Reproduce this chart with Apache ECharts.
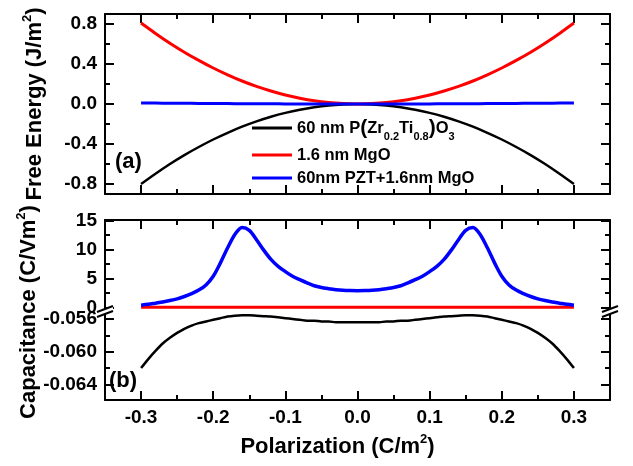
<!DOCTYPE html>
<html><head><meta charset="utf-8">
<script src="https://cdn.jsdelivr.net/npm/echarts@6/dist/echarts.min.js"></script>
<style>html,body{margin:0;padding:0;background:#fff}#c{width:633px;height:466px}</style>
</head><body><div id="c"></div>
<script>
// ---------- data ----------
const polA = [-0.30,-0.28,-0.26,-0.24,-0.22,-0.20,-0.18,-0.16,-0.14,-0.12,-0.10,-0.08,-0.06,-0.04,-0.02,0,0.02,0.04,0.06,0.08,0.10,0.12,0.14,0.16,0.18,0.20,0.22,0.24,0.26,0.28,0.30];
const energyPZT = [-0.800,-0.697,-0.600,-0.511,-0.430,-0.355,-0.288,-0.227,-0.174,-0.128,-0.089,-0.057,-0.032,-0.014,-0.004,0,-0.004,-0.014,-0.032,-0.057,-0.089,-0.128,-0.174,-0.227,-0.288,-0.355,-0.430,-0.511,-0.600,-0.697,-0.800];
const energyMgO = [0.810,0.706,0.608,0.518,0.436,0.360,0.292,0.230,0.176,0.130,0.090,0.058,0.032,0.014,0.004,0,0.004,0.014,0.032,0.058,0.090,0.130,0.176,0.230,0.292,0.360,0.436,0.518,0.608,0.706,0.810];
const energyStack = [0.010,0.009,0.008,0.007,0.006,0.005,0.004,0.003,0.002,0.002,0.001,0.001,0,0,0,0,0,0,0,0.001,0.001,0.002,0.002,0.003,0.004,0.005,0.006,0.007,0.008,0.009,0.010];

const polB = [-0.30,-0.29,-0.28,-0.27,-0.26,-0.25,-0.24,-0.23,-0.22,-0.21,-0.20,-0.19,-0.18,-0.17,-0.16,-0.15,-0.14,-0.13,-0.12,-0.11,-0.10,-0.09,-0.08,-0.07,-0.06,-0.05,-0.04,-0.03,-0.02,-0.01,0,0.01,0.02,0.03,0.04,0.05,0.06,0.07,0.08,0.09,0.10,0.11,0.12,0.13,0.14,0.15,0.16,0.17,0.18,0.19,0.20,0.21,0.22,0.23,0.24,0.25,0.26,0.27,0.28,0.29,0.30];
const capStack = [0.40,0.55,0.75,0.95,1.20,1.50,1.90,2.40,3.00,3.90,5.40,7.70,10.30,12.60,13.80,13.30,11.70,9.90,8.30,7.10,6.20,5.40,4.80,4.25,3.75,3.45,3.25,3.08,2.97,2.92,2.90,2.92,2.97,3.08,3.25,3.45,3.75,4.25,4.80,5.40,6.20,7.10,8.30,9.90,11.70,13.30,13.80,12.60,10.30,7.70,5.40,3.90,3.00,2.40,1.90,1.50,1.20,0.95,0.75,0.55,0.40];
const capPZT = [-0.0620,-0.0609,-0.0599,-0.0590,-0.0583,-0.0577,-0.0572,-0.0568,-0.0565,-0.0563,-0.0561,-0.0559,-0.0557,-0.0556,-0.05555,-0.05555,-0.0556,-0.05565,-0.0557,-0.0558,-0.0559,-0.0560,-0.0561,-0.0562,-0.0562,-0.0563,-0.0563,-0.0564,-0.0564,-0.0564,-0.0564,-0.0564,-0.0564,-0.0564,-0.0563,-0.0563,-0.0562,-0.0562,-0.0561,-0.0560,-0.0559,-0.0558,-0.0557,-0.05565,-0.0556,-0.05555,-0.05555,-0.0556,-0.0557,-0.0559,-0.0561,-0.0563,-0.0565,-0.0568,-0.0572,-0.0577,-0.0583,-0.0590,-0.0599,-0.0609,-0.0620];
const polMgO = [-0.30,-0.15,0,0.15,0.30];
const capMgO = [0.055,0.055,0.055,0.055,0.055];

const xMajor = [-0.3,-0.2,-0.1,0,0.1,0.2,0.3];
const xMinor = [-0.25,-0.15,-0.05,0.05,0.15,0.25];
const energyTicks = [-0.8,-0.4,0,0.4,0.8];
const energyMinor = [-0.6,-0.2,0.2,0.6];
const capUpperTicks = [0,5,10,15];
const capUpperMinor = [2.5,7.5,12.5];
const capLowerTicks = [-0.064,-0.060,-0.056];
const capLowerMinor = [-0.062,-0.058];

// ---------- layout ----------
const FONT = 'Liberation Sans';
const L = 105, R = 610, T0 = 14, H0 = 180, T1 = 220, BRK = 310, B2 = 400;
const lbl = {color:'#000', fontFamily:FONT, fontWeight:'bold', fontSize:19};
const supRich = {sup:{fontSize:13, fontWeight:'bold', fontFamily:FONT, color:'#000', verticalAlign:'top', lineHeight:28}};

function major(grid, pos, min, max, ticks, o) {
  o = o || {};
  const a = {
    type:'value', gridIndex:grid, position:pos, min:min, max:max,
    axisLine:{show:o.line !== false, onZero:false, lineStyle:{color:'#000', width:2}},
    axisTick:{show:true, inside:true, length:9, customValues:ticks, lineStyle:{color:'#000', width:2}},
    axisLabel:o.labels ? Object.assign({show:true, customValues:ticks, margin:8, formatter:o.fmt}, lbl) : {show:false},
    splitLine:{show:false}
  };
  return Object.assign(a, o.extra || {});
}
function minor(grid, pos, min, max, ticks) {
  return {type:'value', gridIndex:grid, position:pos, min:min, max:max,
    axisLine:{show:false, onZero:false},
    axisTick:{show:true, inside:true, length:5, customValues:ticks, lineStyle:{color:'#000', width:2}},
    axisLabel:{show:false}, splitLine:{show:false}};
}
const XMIN = -0.35, XMAX = 0.35;
const E = [-0.9, 0.9], U = [-0.43, 15.1], W = [-0.0659, -0.0549];

const xAxis = [
  major(0,'bottom',XMIN,XMAX,xMajor), minor(0,'bottom',XMIN,XMAX,xMinor),
  major(0,'top',XMIN,XMAX,xMajor), minor(0,'top',XMIN,XMAX,xMinor),
  major(1,'top',XMIN,XMAX,xMajor), minor(1,'top',XMIN,XMAX,xMinor),
  major(2,'bottom',XMIN,XMAX,xMajor,{labels:true, fmt:v=>v.toFixed(1), extra:{
    name:'Polarization (C/m{sup|2})', nameLocation:'middle', nameGap:33,
    nameTextStyle:{color:'#000', fontFamily:FONT, fontWeight:'bold', fontSize:22, lineHeight:28, padding:[0,40,0,0], rich:supRich}}}),
  minor(2,'bottom',XMIN,XMAX,xMinor)
];
const yAxis = [
  major(0,'left',E[0],E[1],energyTicks,{labels:true, fmt:v=>v.toFixed(1), extra:{
    name:'Free Energy (J/m{sup|2})', nameLocation:'middle', nameGap:56,
    nameTextStyle:{color:'#000', fontFamily:FONT, fontWeight:'bold', fontSize:22, lineHeight:28, rich:supRich}}}),
  minor(0,'left',E[0],E[1],energyMinor),
  major(0,'right',E[0],E[1],energyTicks), minor(0,'right',E[0],E[1],energyMinor),
  major(1,'left',U[0],U[1],capUpperTicks,{labels:true, fmt:v=>String(v)}),
  minor(1,'left',U[0],U[1],capUpperMinor),
  major(1,'right',U[0],U[1],capUpperTicks), minor(1,'right',U[0],U[1],capUpperMinor),
  major(2,'left',W[0],W[1],capLowerTicks,{labels:true, fmt:v=>v.toFixed(3)}),
  minor(2,'left',W[0],W[1],capLowerMinor),
  major(2,'right',W[0],W[1],capLowerTicks), minor(2,'right',W[0],W[1],capLowerMinor)
];

const zip = (xs, ys) => xs.map((x, i) => [x, ys[i]]);
function line(name, xi, yi, xs, ys, color, width) {
  return {type:'line', name:name, xAxisIndex:xi, yAxisIndex:yi, data:zip(xs, ys),
    showSymbol:false, symbol:'none', smooth:0.3, lineStyle:{color:color, width:width}, itemStyle:{color:color}};
}

const legendNames = {
  PZT:'60 nm P{par|(}Zr{sub|0.2}Ti{sub|0.8}{par|)}O{sub|3}',
  MgO:'1.6 nm MgO',
  Stack:'60nm PZT+1.6nm MgO'
};

function breakMark(cx, cy) {
  return [
    {type:'polygon', z:100, shape:{points:[[cx-8,cy+2],[cx+8,cy-4],[cx+8,cy+1],[cx-8,cy+7]]}, style:{fill:'#fff'}},
    {type:'line', z:101, shape:{x1:cx-8,y1:cy+2,x2:cx+8,y2:cy-4}, style:{stroke:'#000', lineWidth:2}},
    {type:'line', z:101, shape:{x1:cx-8,y1:cy+7,x2:cx+8,y2:cy+1}, style:{stroke:'#000', lineWidth:2}}
  ];
}

const option = {
  animation:false,
  backgroundColor:'#fff',
  grid:[
    {left:L, right:633-R, top:T0, height:H0},
    {left:L, right:633-R, top:T1, height:BRK-T1},
    {left:L, right:633-R, top:BRK, height:B2-BRK}
  ],
  xAxis:xAxis,
  yAxis:yAxis,
  legend:{
    data:['PZT','MgO','Stack'], orient:'vertical', left:252, top:114, padding:0,
    itemWidth:40, itemHeight:3, itemGap:3, icon:'rect',
    formatter:n => legendNames[n],
    textStyle:{color:'#000', fontFamily:FONT, fontWeight:'bold', fontSize:16.5, lineHeight:20,
      rich:{
        sub:{fontSize:11, fontWeight:'bold', fontFamily:FONT, color:'#000', verticalAlign:'bottom', lineHeight:28},
        par:{fontSize:21, fontWeight:'bold', fontFamily:FONT, color:'#000'}
      }}
  },
  series:[
    line('PZT',0,0,polA,energyPZT,'#000000',2.5),
    line('MgO',0,0,polA,energyMgO,'#ff0000',3),
    line('Stack',0,0,polA,energyStack,'#0000ff',3),
    line('capPZT',6,8,polB,capPZT,'#000000',2.5),
    line('capMgO',4,4,polMgO,capMgO,'#ff0000',3),
    line('capStack',4,4,polB,capStack,'#0000ff',3.5)
  ],
  graphic:[
    {type:'text', x:115, y:162, z:50, style:{text:'(a)', fill:'#000', fontFamily:FONT, fontWeight:'bold', fontSize:22, verticalAlign:'middle'}},
    {type:'text', x:109, y:381, z:50, style:{text:'(b)', fill:'#000', fontFamily:FONT, fontWeight:'bold', fontSize:22, verticalAlign:'middle'}},
    {type:'text', x:29, y:312, rotation:Math.PI/2, z:50, style:{text:'Capacitance (C/Vm{sup|2})', fill:'#000', fontFamily:FONT, fontWeight:'bold', fontSize:22, lineHeight:28, align:'center', verticalAlign:'middle', rich:supRich}}
  ].concat(breakMark(L, BRK), breakMark(R, BRK))
};
const chart = echarts.init(document.getElementById('c'), null, {renderer:'canvas'});
chart.setOption(option);
</script></body></html>
